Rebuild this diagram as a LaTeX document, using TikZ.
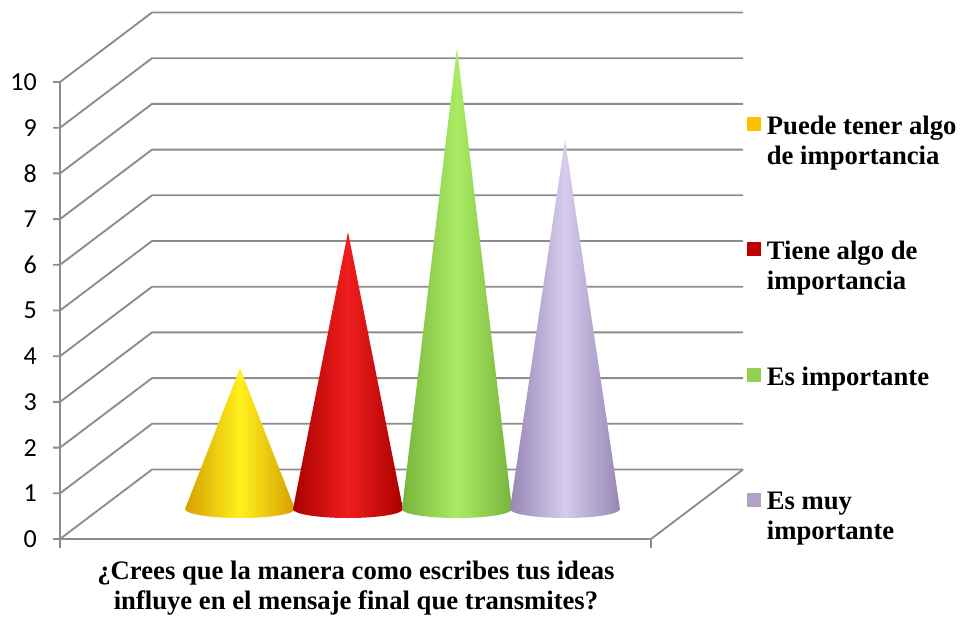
\documentclass[tikz,border=0pt]{standalone}
\usepackage{fontspec}
\setmainfont{Liberation Serif}
\newfontfamily\numfont{Carlito}
\usetikzlibrary{positioning}

\definecolor{gridgray}{RGB}{140,140,140}
\definecolor{ydark}{RGB}{214,160,0}
\definecolor{ylight}{RGB}{255,240,30}
\definecolor{rdark}{RGB}{170,0,0}
\definecolor{rlight}{RGB}{240,30,30}
\definecolor{gdark}{RGB}{120,180,60}
\definecolor{glight}{RGB}{170,235,100}
\definecolor{pdark}{RGB}{150,135,180}
\definecolor{plight}{RGB}{215,203,238}
\definecolor{yleg}{RGB}{255,192,0}
\definecolor{rleg}{RGB}{192,0,0}
\definecolor{gleg}{RGB}{146,208,80}
\definecolor{pleg}{RGB}{179,162,199}

\tikzset{
  grid/.style={draw=gridgray, line width=1.4pt},
  numlbl/.style={anchor=east, inner sep=0pt, font=\numfont\fontsize{19.5}{21}\selectfont},
  legsq/.style={minimum size=10.5pt, inner sep=0pt},
  legtext/.style={anchor=north west, inner sep=0pt, align=left, font=\bfseries\fontsize{20}{22.5}\selectfont},
  title/.style={align=center, inner sep=0pt, font=\bfseries\fontsize{20}{22}\selectfont}
}

\begin{document}
\begin{tikzpicture}[x=0.75pt,y=0.75pt,yscale=-1,xscale=1]
\useasboundingbox (0,0) rectangle (962,617);

%Walls and grid
\foreach \k in {0,...,10} {
  \draw[grid] (53,{539-45.7*\k}) -- (60,{539-45.7*\k}) -- (152,{469.5-45.7*\k}) -- (743,{469.5-45.7*\k});
  \node[numlbl] (n\k) at (37,{539-45.7*\k}) {\k};
}
%Axis and floor
\draw[grid] (60,82) -- (60,548);
\draw[grid] (60,539) -- (651,539) -- (743,469.5);
\draw[grid] (651,539) -- (651,548);

%Cones
\foreach \cx/\ay/\dk/\lt in {240/368/ydark/ylight, 348/232/rdark/rlight, 457/48/gdark/glight, 565/140/pdark/plight}
  \shade[left color=\dk, right color=\dk, middle color=\lt] (\cx,\ay) -- ({\cx-55},509) arc[start angle=180, end angle=0, x radius=55, y radius=9] -- cycle;

%Legend
\node[legsq, fill=yleg] (sq1) at (754,124) {};
\node[legsq, fill=rleg] (sq2) at (754,249) {};
\node[legsq, fill=gleg] (sq3) at (754,375) {};
\node[legsq, fill=pleg] (sq4) at (754,500) {};
\node[legtext] (leg1) at ([xshift=4pt, yshift=-0.5pt]sq1.north east) {Puede tener algo\\de importancia};
\node[legtext] (leg2) at ([xshift=4pt, yshift=-0.5pt]sq2.north east) {Tiene algo de\\importancia};
\node[legtext] (leg3) at ([xshift=4pt, yshift=-0.5pt]sq3.north east) {Es importante};
\node[legtext] (leg4) at ([xshift=4pt, yshift=-0.5pt]sq4.north east) {Es muy\\importante};

%Axis title
\node[title] (ttl) at (356,588) {¿Crees que la manera como escribes tus ideas\\influye en el mensaje final que transmites?};

\end{tikzpicture}
\end{document}
